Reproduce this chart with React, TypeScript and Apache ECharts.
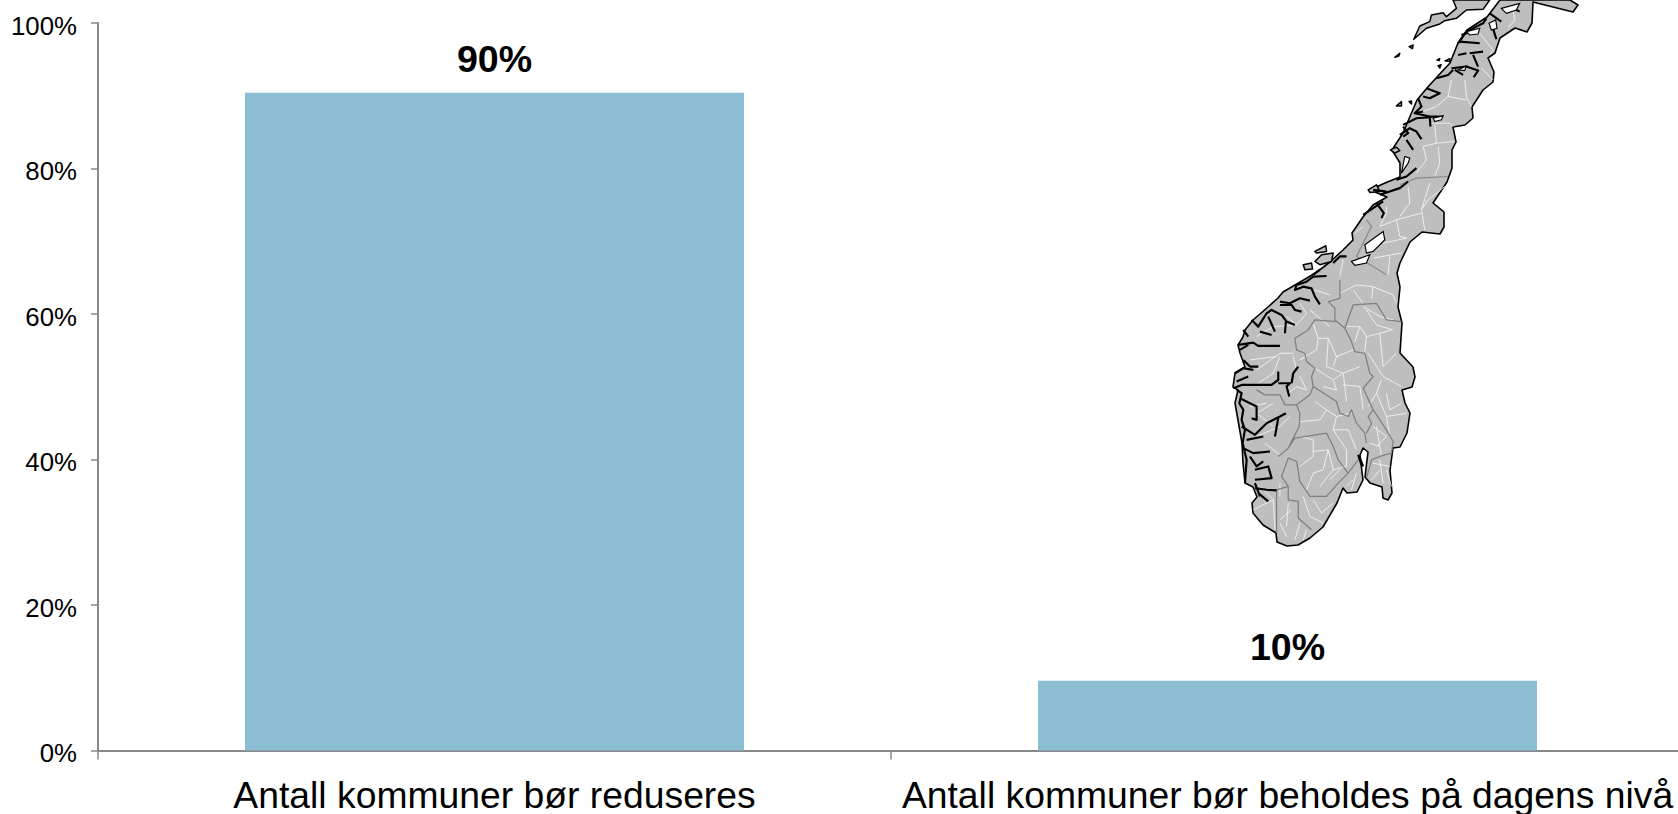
import React, { useEffect, useRef } from "react";
import * as echarts from "echarts";

const categories = ["Antall kommuner bør reduseres", "Antall kommuner bør beholdes på dagens nivå"];
const shares = [90.4, 9.6];
const yTicks = { min: 0, max: 100, step: 20 };

// Decorative map of Norway, full-size page coordinates
const OUTLINE =
  "M1578 5 L1573 12 L1533 2 L1532 23 L1527 32 L1515 28 L1500 38 L1495 53 L1488 58 L1494 72 L1493 82 L1483 90 L1472 107 L1473 118 L1465 125 L1453 127 L1456 142 L1452 150 L1452 168 L1447 182 L1433 203 L1444 212 L1444 227 L1440 234 L1422 232 L1410 242 L1400 263 L1397 273 L1400 287 L1398 307 L1402 323 L1400 353 L1413 367 L1415 377 L1412 387 L1402 390 L1405 403 L1410 413 L1407 433 L1400 447 L1393 448 L1390 470 L1392 493 L1388 500 L1383 498 L1382 487 L1370 483 L1365 477 L1368 452 L1363 448 L1360 455 L1363 480 L1357 492 L1347 493 L1343 488 L1337 503 L1323 527 L1310 538 L1298 545 L1287 546 L1277 542 L1276 533 L1263 525 L1253 513 L1252 503 L1257 497 L1253 487 L1245 483 L1243 463 L1242 443 L1235 403 L1238 390 L1233 387 L1235 373 L1245 367 L1240 353 L1238 345 L1243 337 L1245 330 L1253 320 L1268 307 L1278 298 L1283 292 L1295 285 L1307 278 L1317 272 L1330 262 L1343 250 L1353 240 L1352 233 L1363 217 L1373 205 L1387 197 L1370 190 L1385 183 L1400 177 L1400 163 L1392 150 L1403 133 L1417 100 L1427 88 L1437 77 L1450 63 L1458 43 L1467 30 L1487 17 L1500 0 L1570 0 Z";

// The remaining layers use the 3x coordinates of two crops: north (origin 1200,0), south (origin 1200,270)
const NORTH_ISLANDS =
  "M642 118 L660 78 L690 65 L695 45 L730 38 L740 50 L770 25 L760 0 L870 0 L850 28 L800 30 L770 55 L735 62 L720 72 L680 85 Z M505 570 L530 555 L540 575 L510 578 Z M572 450 L590 442 L600 452 L585 460 Z M310 795 L335 790 L338 808 L315 810 Z M345 755 L378 738 L380 755 L350 760 Z M345 785 L365 765 L400 760 L395 785 L360 795 Z M628 140 L640 135 L638 146 Z M585 172 L600 160 L597 168 Z M590 318 L605 305 L605 318 Z M628 305 L635 303 L635 312 Z M712 180 L720 176 L718 182 Z M736 183 L750 176 L752 184 Z M715 197 L724 194 L720 204 Z";
const NORTH_HOLES =
  "M905 25 L960 10 L950 30 L920 40 Z M868 70 L888 60 L892 85 L875 90 Z M800 95 L840 85 L835 102 L810 105 Z M775 210 L800 198 L795 212 Z M495 735 L550 695 L555 720 L520 755 L500 760 Z M455 785 L510 765 L500 790 L465 797 Z M700 355 L730 348 L725 360 L705 365 Z M605 520 L625 490 L630 475 L615 470 Z";
const NORTH_FJORDS =
  "M775 130 L800 95 L850 70 L860 55 M785 105 L830 90 M780 125 L840 130 M810 160 L850 155 M820 165 L835 200 M775 165 L800 160 M755 205 L800 200 L835 212 L822 232 M765 210 L790 225 M710 235 L745 225 L760 210 M680 265 L720 280 L690 295 L670 290 M655 295 L665 320 L645 340 L670 335 M645 340 L690 350 L730 350 M610 375 L650 355 L690 352 L692 380 M600 405 L630 385 L650 395 L665 418 M620 420 L640 450 M610 380 L625 400 L610 410 M650 505 L620 530 L590 540 M540 585 L600 565 L625 545 M520 570 L560 575 M530 610 L552 640 L545 655 M490 645 L520 625 L550 605 M870 40 L905 65 M875 70 L890 118 M940 25 L960 35 M400 790 L420 770 L440 770 M340 825 L360 810";
const NORTH_WHITE =
  "M840 100 L880 150 L870 165 M845 205 L880 240 M755 240 L745 290 L710 320 L670 335 M795 240 L800 290 L815 320 M745 290 L800 300 M690 370 L750 370 L760 380 M705 375 L710 430 L765 425 M710 430 L670 440 L680 480 L650 520 M715 440 L720 490 L705 530 M690 550 L665 630 L675 690 M625 560 L630 610 L600 650 M735 560 L685 600 L665 630 M665 640 L590 660 L600 710 L620 715 L550 730 M590 660 L540 680 L560 640 L560 620 M605 760 L520 775 M570 770 L565 825 M430 780 L420 830 M940 30 L945 60 L925 85 M490 680 L465 700";
const NORTH_GREY = "M600 555 L650 535 L745 530 M500 660 L515 680 L470 770 L520 800 L560 825";
const SOUTH_GREY =
  "M385 95 L405 115 L405 150 L435 175 L460 105 L530 100 L560 150 L605 155 M435 175 L410 155 L345 150 L325 180 L285 205 L290 240 L315 250 L320 275 L345 295 L335 320 L340 350 L410 395 L420 430 L445 440 L455 420 L470 460 L495 490 L500 520 M435 175 L455 215 L465 245 L495 250 L510 310 L520 320 L490 355 L520 420 L505 440 L515 460 L500 490 M520 420 L560 480 L580 515 L575 550 L540 560 L515 570 L500 625 M340 350 L330 375 L290 405 L255 405 L240 375 L195 375 L170 360 M290 405 L300 430 L298 470 L265 535 L235 560 M265 535 L285 505 L380 490 L400 530 L415 570 L445 610 L415 640 L380 680 L330 680 L300 635 L290 575 L265 565 L245 620 L265 650 L265 690 L295 695 L295 745 L335 780 M265 650 L230 660 L230 790 M445 610 L475 570 M385 95 L420 85 L420 30";
const SOUTH_WHITE =
  "M420 70 L470 45 L520 50 L515 85 M460 60 L490 100 M520 50 L580 75 L590 100 M490 110 L540 140 L580 150 M500 120 L530 165 L580 180 M440 170 L480 170 L500 200 L540 190 L575 180 M480 170 L465 215 M500 200 L495 245 M540 190 L550 290 L590 250 M505 250 L550 320 L605 350 M340 160 L355 205 L385 205 L410 260 L460 240 M355 205 L350 240 L300 270 M385 205 L380 290 L430 310 L480 290 M410 260 L400 290 M345 295 L400 330 L430 310 L440 395 M400 330 L410 360 L370 350 M430 345 L480 350 L490 420 M545 330 L530 370 L560 440 L620 430 M560 370 L570 420 L605 400 M530 370 L505 410 M560 440 L570 500 M520 470 L560 500 L530 530 M530 470 L545 560 M510 520 L540 530 M520 580 L570 590 M540 570 L550 640 M540 600 L515 630 M560 600 L575 650 M345 395 L380 420 L360 450 L300 455 M380 420 L410 440 L400 480 L445 480 L470 540 M410 440 L455 430 M400 480 L440 540 L440 590 M300 500 L340 510 M340 510 L340 560 L300 590 M340 545 L385 540 L400 600 L440 590 M385 540 L370 600 L340 610 L320 660 M400 600 L360 650 M420 600 L390 630 M200 400 L150 410 M220 400 L170 430 L220 470 M170 500 L240 470 L270 440 M195 520 L240 555 M170 300 L240 250 L280 250 M150 270 L230 260 M240 260 L220 310 L175 340 M280 260 L290 300 M300 320 L320 360 L290 350 L260 375 M170 200 L220 170 L290 165 L320 130 L300 100 M290 165 L260 140 M330 120 L390 170 M345 60 L390 75 M160 720 L220 690 L180 650 M220 690 L225 780 M240 680 L240 640 M240 760 L260 800 M265 700 L260 770 M275 720 L240 750 M300 760 L285 810 M320 780 L310 810 M310 680 L330 740 L370 760 M340 690 L365 730 L400 700 M460 630 L440 650 M470 610 L455 660";
const SOUTH_FJORDS =
  "M380 18 L340 20 L320 35 L290 45 L285 60 L310 50 L335 55 L345 80 L360 103 M240 95 L270 100 L300 85 L330 92 M240 105 L275 105 L285 120 L305 125 M155 150 L175 170 L200 130 L215 120 L245 135 L260 155 L285 165 M258 155 L255 190 M205 140 L225 185 M180 185 L215 195 M130 180 L145 200 M115 225 L160 218 L175 228 L240 228 M120 240 L145 225 M130 270 L150 290 L175 290 M105 310 L130 295 L160 300 M110 335 L145 320 M100 355 L125 345 L160 345 L215 345 L235 330 L235 305 M235 340 L270 340 L260 350 L268 380 M275 340 L280 310 L295 290 M110 360 L125 370 L118 400 L130 420 L125 450 L135 480 L128 520 L140 570 L135 640 M120 385 L150 400 L170 410 L170 450 L155 445 M125 470 L165 495 L200 460 L240 440 L258 430 M235 445 L225 500 M140 510 L190 500 M130 535 L160 550 L210 545 M150 560 L170 590 L190 575 M165 600 L205 590 L215 625 L165 630 M165 655 L200 660 L230 662 M175 670 L205 695 M165 640 L180 680 M480 565 L490 590 M475 555 L485 585";

function App() {
  const ref = useRef<HTMLDivElement>(null);
  useEffect(() => {
    const reg = (name: string, d: string) =>
      echarts.graphic.registerShape(name, echarts.graphic.extendPath(d, {}));
    reg("noOutline", OUTLINE);
    reg("noIslands", NORTH_ISLANDS);
    reg("noHoles", NORTH_HOLES);
    reg("noNorthFjords", NORTH_FJORDS);
    reg("noNorthWhite", NORTH_WHITE);
    reg("noNorthGrey", NORTH_GREY);
    reg("noSouthGrey", SOUTH_GREY);
    reg("noSouthWhite", SOUTH_WHITE);
    reg("noSouthFjords", SOUTH_FJORDS);

    const chart = echarts.init(ref.current!, null, { renderer: "svg" });
    const north = { x: 1200, y: 0, scaleX: 1 / 3, scaleY: 1 / 3 };
    const south = { x: 1200, y: 270, scaleX: 1 / 3, scaleY: 1 / 3 };
    const line = (stroke: string, lineWidth: number) => ({ fill: "none", stroke, lineWidth, lineJoin: "round" });
    const font = "'Liberation Sans', Arial, sans-serif";
    chart.setOption({
      animation: false,
      backgroundColor: "#ffffff",
      grid: { left: 98, top: 23, width: 1586, height: 727.5, containLabel: false, outerBoundsMode: "none" },
      xAxis: {
        type: "category",
        data: categories,
        axisLine: { lineStyle: { color: "#888888", width: 2 } },
        axisTick: { show: true, length: 9, lineStyle: { color: "#888888", width: 1.5 } },
        axisLabel: { color: "#000000", fontFamily: font, fontSize: 37.3, margin: 26.5, lineHeight: 35, interval: 0 },
      },
      yAxis: {
        type: "value",
        min: yTicks.min,
        max: yTicks.max,
        interval: yTicks.step,
        splitLine: { show: false },
        axisLine: { show: true, lineStyle: { color: "#888888", width: 2 } },
        axisTick: { show: true, length: 7, lineStyle: { color: "#888888", width: 1.5 } },
        axisLabel: { color: "#000000", fontFamily: font, fontSize: 25.8, margin: 21, verticalAlign: "top", lineHeight: 5, formatter: "{value}%" },
      },
      series: [
        {
          type: "bar",
          data: shares,
          barWidth: 499,
          itemStyle: { color: "#8bbdd3" },
          label: {
            show: true,
            position: "top",
            distance: 15,
            color: "#000000",
            fontFamily: font,
            fontWeight: "bold",
            fontSize: 37.6,
            formatter: (p: any) => `${Math.round(p.value)}%`,
          },
        },
      ],
      graphic: [
        { type: "noOutline", style: { fill: "#bebebe", stroke: "#000000", lineWidth: 1.6, lineJoin: "round" } },
        { type: "noIslands", ...north, style: { fill: "#bebebe", stroke: "#000000", lineWidth: 4.5, lineJoin: "round" } },
        { type: "noNorthWhite", ...north, style: line("#f4f4f4", 2.6) },
        { type: "noSouthWhite", ...south, style: line("#f4f4f4", 2.6) },
        { type: "noNorthGrey", ...north, style: line("#8a8a8a", 3.6) },
        { type: "noSouthGrey", ...south, style: line("#808080", 3.8) },
        { type: "noNorthFjords", ...north, style: line("#000000", 6.5) },
        { type: "noSouthFjords", ...south, style: line("#000000", 6.5) },
        { type: "noHoles", ...north, style: { fill: "#ffffff", stroke: "#000000", lineWidth: 3.5 } },
      ],
    });
    return () => chart.dispose();
  }, []);
  return <div ref={ref} style={{ position: "fixed", left: 0, top: 0, width: 1678, height: 814 }} />;
}

export default App;
